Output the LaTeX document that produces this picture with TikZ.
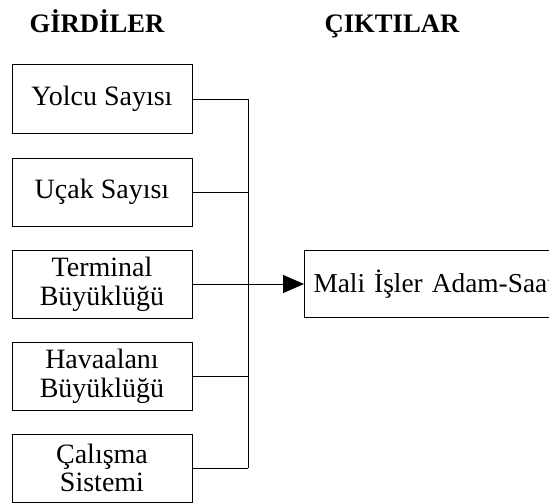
\documentclass[tikz,border=0pt]{standalone}
\usepackage{fontspec}
\setmainfont{Liberation Serif}
\usetikzlibrary{arrows.meta}
\begin{document}
\begin{tikzpicture}[x=0.75pt,y=-0.75pt,
  every node/.style={font=\fontsize{21}{21.5}\selectfont},
  inbox/.style={draw,line width=0.75pt,minimum width=135pt,minimum height=51pt,inner sep=0pt,align=center},
  outbox/.style={draw,line width=0.75pt,anchor=west,minimum height=50.25pt,text width=210pt,inner xsep=6.75pt,align=left,font=\fontsize{20.5}{21}\selectfont},
  title/.style={font=\fontsize{20}{21}\selectfont\bfseries,anchor=base},
  conn/.style={line width=0.75pt}]
\useasboundingbox (0,0) rectangle (549,503);
\clip (0,0) rectangle (549,503);
\node[title] (t1) at (97,33) {GİRDİLER};
\node[title] (t2) at (392,33) {ÇIKTILAR};
\node[inbox] (b1) at (102,99) {Yolcu Sayısı};
\node[inbox] (b2) at (102,192) {Uçak Sayısı};
\node[inbox] (b3) at (102,284) {Terminal\\Büyüklüğü};
\node[inbox] (b4) at (102,376.5) {Havaalanı\\Büyüklüğü};
\node[inbox] (b5) at (102,468) {Çalışma\\Sistemi};
\node[outbox] (out) at (304,284) {Mali İşler Adam-Saat};
\coordinate (j1) at (248,99);
\coordinate (j2) at (248,192);
\coordinate (j3) at (248,284);
\coordinate (j4) at (248,376.5);
\coordinate (j5) at (248,468);
\draw[conn] (b1.east) -- (j1);
\draw[conn] (b2.east) -- (j2);
\draw[conn] (b3.east) -- (j3);
\draw[conn] (b4.east) -- (j4);
\draw[conn] (b5.east) -- (j5);
\draw[conn] (j1) -- (j5);
\draw[conn,-{Triangle[length=15.75pt,width=13.5pt]}] (j3) -- (out.west);
\end{tikzpicture}
\end{document}
